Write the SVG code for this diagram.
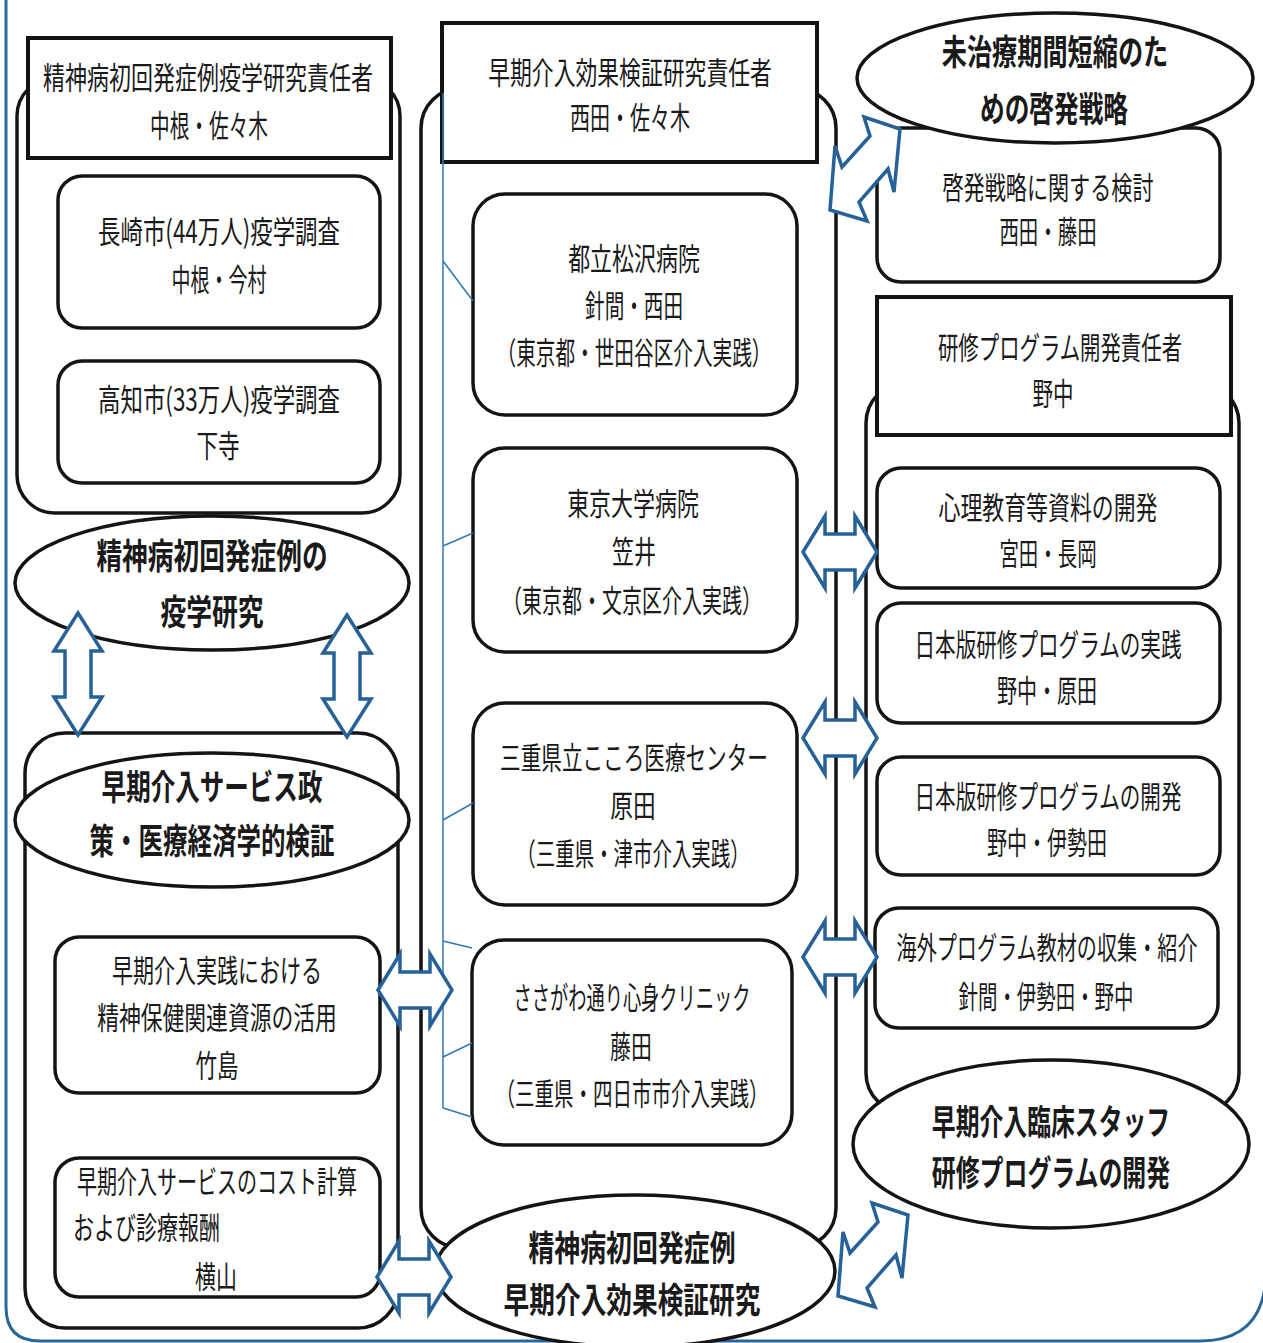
<svg xmlns="http://www.w3.org/2000/svg" xmlns:xlink="http://www.w3.org/1999/xlink" width="1263" height="1343" viewBox="0 0 1263 1343">
<style>
.frame{fill:none;stroke:#2b6699;stroke-width:3}
.grp{fill:#fff;stroke:#141414;stroke-width:3.5}
.box{fill:#fff;stroke:#141414;stroke-width:3.5}
.hdr{fill:#fff;stroke:#141414;stroke-width:4}
.ell{fill:#fff;stroke:#141414;stroke-width:3.5}
.t{font-family:"Noto Sans CJK JP","Noto Sans CJK SC",sans-serif;font-size:31px;fill:#1a1a1a;text-anchor:middle}
.b{font-size:35px;font-weight:bold}
.s{text-anchor:start}
.arr{fill:#fff;stroke:#266197;stroke-width:3.5;stroke-linejoin:miter}
.thin{fill:none;stroke:#2f78b4;stroke-width:1.5}
</style>
<defs>
<path id="ha" d="M-37,0 L-15,-36 L-15,-18 L15,-18 L15,-36 L37,0 L15,36 L15,18 L-15,18 L-15,36 Z"/>
<path id="va" d="M0,-61 L-24,-23 L-13,-23 L-13,23 L-24,23 L0,61 L24,23 L13,23 L13,-23 L24,-23 Z"/>
</defs>
<rect width="1263" height="1343" fill="#fff"/>
<path class="frame" d="M6,-10 V1307 Q6,1341 40,1341 H1200 Q1266,1341 1266,1270 V-10"/>

<g id="grp-epi"><rect class="grp" x="17" y="78" width="383" height="435" rx="38"/></g>
<g id="grp-policy"><rect class="grp" x="25" y="733" width="373" height="595" rx="40"/></g>
<g id="grp-mid"><rect class="grp" x="421" y="88" width="415" height="1160" rx="40"/></g>
<g id="grp-train"><rect class="grp" x="866" y="383" width="373" height="730" rx="40"/></g>

<g id="hdr-epi"><rect class="hdr" x="28" y="38" width="363" height="120"/>
<text class="t" transform="translate(208,88.5) scale(.72,1)" textLength="458" lengthAdjust="spacingAndGlyphs">精神病初回発症例疫学研究責任者</text>
<text class="t" transform="translate(209,136.5) scale(.72,1)" textLength="164" lengthAdjust="spacingAndGlyphs">中根・佐々木</text></g>
<g id="box-nagasaki"><rect class="box" x="58" y="176" width="322" height="152" rx="24"/>
<text class="t" transform="translate(219,242.5) scale(.72,1)" textLength="336" lengthAdjust="spacingAndGlyphs">長崎市(44万人)疫学調査</text>
<text class="t" transform="translate(219,290.5) scale(.72,1)" textLength="132" lengthAdjust="spacingAndGlyphs">中根・今村</text></g>
<g id="box-kochi"><rect class="box" x="58" y="361" width="322" height="122" rx="24"/>
<text class="t" transform="translate(219,410.5) scale(.72,1)" textLength="336" lengthAdjust="spacingAndGlyphs">高知市(33万人)疫学調査</text>
<text class="t" transform="translate(218,456.5) scale(.72,1)" textLength="60" lengthAdjust="spacingAndGlyphs">下寺</text></g>
<g id="ell-epi"><ellipse class="ell" cx="212" cy="583" rx="197" ry="67"/>
<text class="t b" transform="translate(212,569) scale(.8,1)" textLength="289" lengthAdjust="spacingAndGlyphs">精神病初回発症例の</text>
<text class="t b" transform="translate(212,625) scale(.8,1)" textLength="129" lengthAdjust="spacingAndGlyphs">疫学研究</text></g>
<g id="box-resource"><rect class="box" x="55" y="937" width="325" height="156" rx="24"/>
<text class="t" transform="translate(217,981.5) scale(.72,1)" textLength="292" lengthAdjust="spacingAndGlyphs">早期介入実践における</text>
<text class="t" transform="translate(217,1028.5) scale(.72,1)" textLength="333" lengthAdjust="spacingAndGlyphs">精神保健関連資源の活用</text>
<text class="t" transform="translate(217,1076.5) scale(.72,1)" textLength="60" lengthAdjust="spacingAndGlyphs">竹島</text></g>
<g id="box-cost"><rect class="box" x="55" y="1158" width="325" height="139" rx="24"/>
<text class="t" transform="translate(217,1192.5) scale(.72,1)" textLength="389" lengthAdjust="spacingAndGlyphs">早期介入サービスのコスト計算</text>
<text class="t s" transform="translate(73,1238.5) scale(.72,1)" textLength="204" lengthAdjust="spacingAndGlyphs">および診療報酬</text>
<text class="t" transform="translate(216,1287.5) scale(.72,1)" textLength="58" lengthAdjust="spacingAndGlyphs">横山</text></g>
<g id="ell-policy"><ellipse class="ell" cx="212" cy="820" rx="197" ry="67"/>
<text class="t b" transform="translate(212,800) scale(.8,1)" textLength="276" lengthAdjust="spacingAndGlyphs">早期介入サービス政</text>
<text class="t b" transform="translate(212,854) scale(.8,1)" textLength="306" lengthAdjust="spacingAndGlyphs">策・医療経済学的検証</text></g>

<g id="hdr-mid"><rect class="hdr" x="442" y="23" width="375" height="139"/>
<text class="t" transform="translate(630,83.5) scale(.72,1)" textLength="394" lengthAdjust="spacingAndGlyphs">早期介入効果検証研究責任者</text>
<text class="t" transform="translate(630,128.5) scale(.72,1)" textLength="167" lengthAdjust="spacingAndGlyphs">西田・佐々木</text></g>
<g id="box-matsuzawa"><rect class="box" x="473" y="194" width="324" height="221" rx="32"/>
<text class="t" transform="translate(634,269.5) scale(.72,1)" textLength="183" lengthAdjust="spacingAndGlyphs">都立松沢病院</text>
<text class="t" transform="translate(634,316.5) scale(.72,1)" textLength="136" lengthAdjust="spacingAndGlyphs">針間・西田</text>
<text class="t" transform="translate(634,363.5) scale(.72,1)" textLength="382" lengthAdjust="spacingAndGlyphs">（東京都・世田谷区介入実践）</text></g>
<g id="box-todai"><rect class="box" x="473" y="448" width="324" height="204" rx="32"/>
<text class="t" transform="translate(633,514.5) scale(.72,1)" textLength="183" lengthAdjust="spacingAndGlyphs">東京大学病院</text>
<text class="t" transform="translate(634,562.5) scale(.72,1)" textLength="61" lengthAdjust="spacingAndGlyphs">笠井</text>
<text class="t" transform="translate(632,611.5) scale(.72,1)" textLength="361" lengthAdjust="spacingAndGlyphs">（東京都・文京区介入実践）</text></g>
<g id="box-mie"><rect class="box" x="473" y="703" width="324" height="202" rx="32"/>
<text class="t" transform="translate(634,768.5) scale(.72,1)" textLength="372" lengthAdjust="spacingAndGlyphs">三重県立こころ医療センター</text>
<text class="t" transform="translate(633,816.5) scale(.72,1)" textLength="63" lengthAdjust="spacingAndGlyphs">原田</text>
<text class="t" transform="translate(633,864.5) scale(.72,1)" textLength="324" lengthAdjust="spacingAndGlyphs">（三重県・津市介入実践）</text></g>
<g id="box-sasagawa"><rect class="box" x="472" y="940" width="320" height="205" rx="32"/>
<text class="t" transform="translate(632,1008.5) scale(.72,1)" textLength="329" lengthAdjust="spacingAndGlyphs">ささがわ通り心身クリニック</text>
<text class="t" transform="translate(631,1057.5) scale(.72,1)" textLength="58" lengthAdjust="spacingAndGlyphs">藤田</text>
<text class="t" transform="translate(632,1104.5) scale(.72,1)" textLength="379" lengthAdjust="spacingAndGlyphs">（三重県・四日市市介入実践）</text></g>
<g id="ell-mid"><ellipse class="ell" cx="635" cy="1271" rx="200" ry="76"/>
<text class="t b" transform="translate(632,1261) scale(.8,1)" textLength="259" lengthAdjust="spacingAndGlyphs">精神病初回発症例</text>
<text class="t b" transform="translate(632,1313) scale(.8,1)" textLength="321" lengthAdjust="spacingAndGlyphs">早期介入効果検証研究</text></g>

<g id="box-keihatsu"><rect class="box" x="877" y="128" width="343" height="154" rx="24"/>
<text class="t" transform="translate(1048,198.5) scale(.72,1)" textLength="293" lengthAdjust="spacingAndGlyphs">啓発戦略に関する検討</text>
<text class="t" transform="translate(1048,242.5) scale(.72,1)" textLength="135" lengthAdjust="spacingAndGlyphs">西田・藤田</text></g>
<g id="ell-dup"><ellipse class="ell" cx="1055" cy="78" rx="198" ry="65"/>
<text class="t b" transform="translate(1055,65) scale(.8,1)" textLength="283" lengthAdjust="spacingAndGlyphs">未治療期間短縮のた</text>
<text class="t b" transform="translate(1054,122) scale(.8,1)" textLength="185" lengthAdjust="spacingAndGlyphs">めの啓発戦略</text></g>
<g id="hdr-train"><rect class="hdr" x="877" y="297" width="354" height="138"/>
<text class="t" transform="translate(1060,358.5) scale(.72,1)" textLength="339" lengthAdjust="spacingAndGlyphs">研修プログラム開発責任者</text>
<text class="t" transform="translate(1053,404.5) scale(.72,1)" textLength="57" lengthAdjust="spacingAndGlyphs">野中</text></g>
<g id="box-psycho"><rect class="box" x="877" y="468" width="343" height="120" rx="24"/>
<text class="t" transform="translate(1048,518.5) scale(.72,1)" textLength="304" lengthAdjust="spacingAndGlyphs">心理教育等資料の開発</text>
<text class="t" transform="translate(1048,564.5) scale(.72,1)" textLength="135" lengthAdjust="spacingAndGlyphs">宮田・長岡</text></g>
<g id="box-jp-practice"><rect class="box" x="877" y="603" width="343" height="120" rx="24"/>
<text class="t" transform="translate(1048,655.5) scale(.72,1)" textLength="371" lengthAdjust="spacingAndGlyphs">日本版研修プログラムの実践</text>
<text class="t" transform="translate(1047,701.5) scale(.72,1)" textLength="139" lengthAdjust="spacingAndGlyphs">野中・原田</text></g>
<g id="box-jp-dev"><rect class="box" x="877" y="757" width="343" height="118" rx="24"/>
<text class="t" transform="translate(1048,807.5) scale(.72,1)" textLength="371" lengthAdjust="spacingAndGlyphs">日本版研修プログラムの開発</text>
<text class="t" transform="translate(1047,853.5) scale(.72,1)" textLength="167" lengthAdjust="spacingAndGlyphs">野中・伊勢田</text></g>
<g id="box-overseas"><rect class="box" x="875" y="908" width="343" height="120" rx="24"/>
<text class="t" transform="translate(1047,958.5) scale(.72,1)" textLength="418" lengthAdjust="spacingAndGlyphs">海外プログラム教材の収集・紹介</text>
<text class="t" transform="translate(1046,1007.5) scale(.72,1)" textLength="243" lengthAdjust="spacingAndGlyphs">針間・伊勢田・野中</text></g>
<g id="ell-train"><ellipse class="ell" cx="1051" cy="1144" rx="198" ry="84"/>
<text class="t b" transform="translate(1051,1135) scale(.8,1)" textLength="298" lengthAdjust="spacingAndGlyphs">早期介入臨床スタッフ</text>
<text class="t b" transform="translate(1051,1186) scale(.8,1)" textLength="298" lengthAdjust="spacingAndGlyphs">研修プログラムの開発</text></g>

<g id="connectors">
<path class="thin" d="M443,93 V1108 M443,261 L473,301 M443,546 L473,533 M443,820 L473,803 M443,941 L472,948 M443,1057 L472,1043 M443,1108 L472,1117"/>
<use href="#va" class="arr" x="78" y="674"/>
<use href="#va" class="arr" x="347" y="676"/>
<use href="#ha" class="arr" x="840" y="552"/>
<use href="#ha" class="arr" x="840" y="738"/>
<use href="#ha" class="arr" x="840" y="957"/>
<use href="#ha" class="arr" x="415" y="990"/>
<use href="#ha" class="arr" x="414" y="1277"/>
<path class="arr" d="M864,117 L900,129 L894,192 L888,169 L859,202 L867,221 L830,210 L835,146 L842,167 L870,136 Z"/>
<path class="arr" d="M872,1203 L908,1215 L902,1278 L896,1255 L867,1288 L875,1307 L838,1296 L843,1232 L850,1253 L878,1222 Z"/>
</g>
</svg>
